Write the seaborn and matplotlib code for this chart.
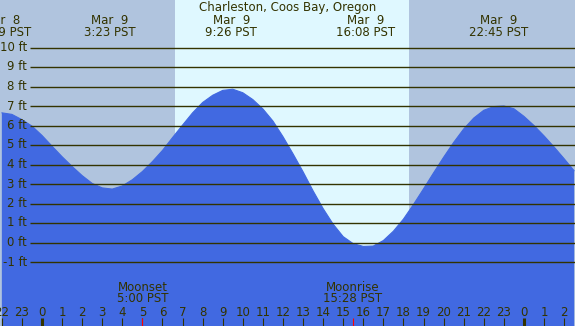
import numpy as np
import pandas as pd
import seaborn as sns
import matplotlib.pyplot as plt

# --- data (hours from Mar 9 00:00 PST, feet) ---
hours = [-2.0, -1.5, -1.0, -0.5, 0.0, 0.5, 1.0, 1.5, 2.0, 2.5, 3.0, 3.5,
         4.0, 4.5, 5.0, 5.5, 6.0, 6.5, 7.0, 7.5, 8.0, 8.5, 9.0, 9.5,
         10.0, 10.5, 11.0, 11.5, 12.0, 12.5, 13.0, 13.5, 14.0, 14.5, 15.0, 15.5,
         16.0, 16.5, 17.0, 17.5, 18.0, 18.5, 19.0, 19.5, 20.0, 20.5, 21.0, 21.5,
         22.0, 22.5, 23.0, 23.5, 24.0, 24.5, 25.0, 25.5, 26.0, 26.5]
heights = [6.65, 6.57, 6.30, 5.97, 5.49, 4.94, 4.40, 3.90, 3.43, 3.03, 2.80, 2.74,
           2.90, 3.22, 3.64, 4.15, 4.72, 5.38, 6.02, 6.65, 7.18, 7.55, 7.80, 7.86,
           7.68, 7.33, 6.85, 6.23, 5.43, 4.55, 3.63, 2.65, 1.74, 0.94, 0.30, -0.06,
           -0.20, -0.18, 0.10, 0.58, 1.20, 1.95, 2.75, 3.57, 4.37, 5.13, 5.82, 6.38,
           6.78, 6.97, 7.00, 6.86, 6.47, 6.00, 5.47, 4.90, 4.30, 3.68]

extreme_times = [-2.02, 3.38, 9.43, 16.13, 22.75]
extreme_days = ["Mar  8", "Mar  9", "Mar  9", "Mar  9", "Mar  9"]
extreme_labels = ["21:59 PST", "3:23 PST", "9:26 PST", "16:08 PST", "22:45 PST"]

sunrise, sunset = 6.62, 18.28
moon_times = [5.0, 15.47]
moon_names = ["Moonset", "Moonrise"]
moon_labels = ["5:00 PST", "15:28 PST"]

ft_levels = list(range(-1, 11))
hour_ticks = list(range(-2, 27))

title = "Charleston, Coos Bay, Oregon"

NIGHT = "#B0C4DE"
DAY = "#DFF8FF"
WATER = "#4169E1"
INK = "#333300"
FS = 8.5

sns.set_style("white")
plt.rcParams["font.family"] = ["DejaVu Sans"]

# pixel geometry of the reference: 20.08 px per hour, 19.5 px per foot
PXH = 20.08
PXF = 19.5
T0 = -42 / PXH
T1 = T0 + 575 / PXH
Y1 = 242.5 / PXF
Y0 = Y1 - 326 / PXF

df = pd.DataFrame({"hour": hours, "height": heights})

fig = plt.figure(figsize=(5.75, 3.26), dpi=100)
ax = fig.add_axes([0, 0, 1, 1])
ax.set_xlim(T0, T1)
ax.set_ylim(Y0, Y1)
ax.axis("off")

ax.axvspan(T0, sunrise, color=NIGHT, lw=0, zorder=0)
ax.axvspan(sunrise, sunset, color=DAY, lw=0, zorder=0)
ax.axvspan(sunset, T1, color=NIGHT, lw=0, zorder=0)

ax.fill_between(df["hour"], df["height"], Y0 - 5, color=WATER, lw=0, zorder=1)
sns.lineplot(data=df, x="hour", y="height", color=WATER, lw=0.8, ax=ax,
             legend=False, zorder=1)
ax.set_xlabel(None)
ax.set_ylabel(None)

# depth grid + labels
ax.hlines(ft_levels, T0 + 30 / PXH, T1, color=INK, lw=1.0, zorder=2)
for lvl in ft_levels:
    ax.text(T0 + 27 / PXH, lvl, f"{lvl} ft", ha="right", va="center",
            fontsize=FS, color=INK, zorder=3)

# top texts
tr = ax.get_xaxis_transform()
ax.text(0.5, 1 - 7 / 326, title, transform=ax.transAxes, ha="center",
        va="center", fontsize=FS, color=INK)
for t, d, lab in zip(extreme_times, extreme_days, extreme_labels):
    ax.text(t, 1 - 20 / 326, d, transform=tr, ha="center", va="center",
            fontsize=FS, color=INK)
    ax.text(t, 1 - 32.5 / 326, lab, transform=tr, ha="center", va="center",
            fontsize=FS, color=INK)

# hour ticks at bottom
for h in hour_ticks:
    ax.text(h, 1 - 312 / 326, str(h % 24), transform=tr, ha="center",
            va="center", fontsize=FS, color=INK, clip_on=True)
    ax.vlines(h, 0, 8 / 326, transform=tr, color=INK,
              lw=2.2 if h % 24 == 0 else 0.8, zorder=3)

for t, n, lab in zip(moon_times, moon_names, moon_labels):
    ax.vlines(t, 0, 8 / 326, transform=tr, color="red", lw=0.8, zorder=4)
    ax.text(t, 1 - 287.5 / 326, n, transform=tr, ha="center", va="center",
            fontsize=FS, color=INK)
    ax.text(t, 1 - 299 / 326, lab, transform=tr, ha="center", va="center",
            fontsize=FS, color=INK)

plt.savefig("out.png", dpi=100)
